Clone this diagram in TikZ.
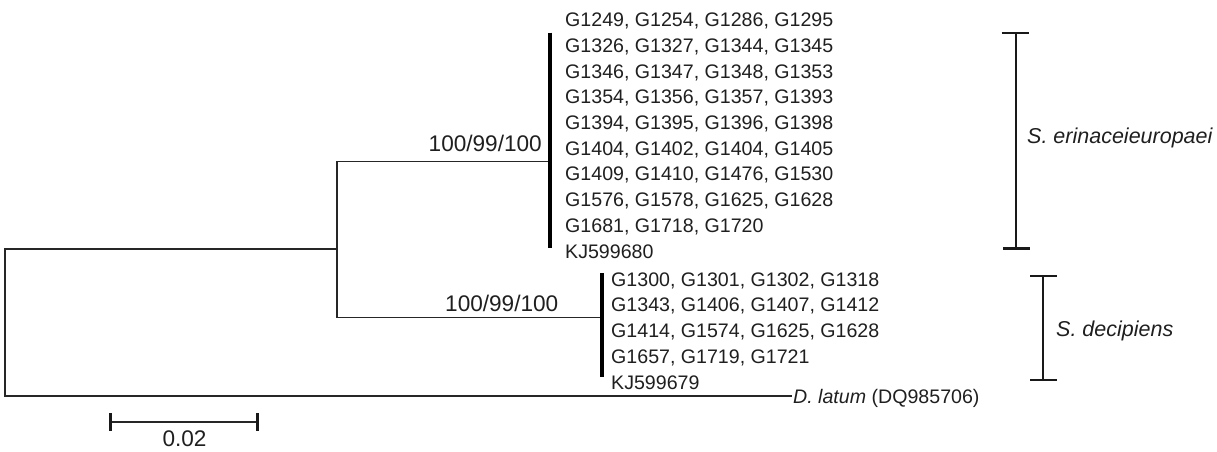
\documentclass[tikz,border=0pt]{standalone}
\usepackage{fontspec}
\setmainfont{Liberation Sans}
\usetikzlibrary{calc}
\begin{document}
\begin{tikzpicture}[x=1pt,y=-1pt,
  branch/.style={line width=1.9pt, draw=black!85, line join=miter},
  clade/.style={line width=3.1pt, draw=black},
  bracket/.style={line width=2.5pt, draw=black!90},
  scalebar/.style={line width=1.7pt, draw=black!85},
  tick/.style={line width=2.6pt, draw=black!90},
  taxon/.style={anchor=base west, inner sep=0pt, text=black!88, font=\fontsize{19.6}{19.6}\selectfont},
  boot/.style={anchor=base east, inner sep=0pt, text=black!88, font=\fontsize{22.6}{22.6}\selectfont},
  species/.style={anchor=base west, inner sep=0pt, text=black!88, font=\fontsize{21.5}{21.5}\selectfont\itshape}]
\useasboundingbox (0,0) rectangle (1217,452);

% tree coordinates
\coordinate (rt) at (5,249);
\coordinate (rb) at (5,396);
\coordinate (n1) at (337,249);
\coordinate (n1t) at (337,161.5);
\coordinate (n1b) at (337,317.5);
\coordinate (c1) at (550,161.5);
\coordinate (c1t) at (550,32.7);
\coordinate (c1b) at (550,248.3);
\coordinate (c2) at (602,317.5);
\coordinate (c2t) at (602,273.3);
\coordinate (c2b) at (602,377);
\coordinate (out) at (792,396);

% branches
\draw[branch] (out) -- (rb) -- (rt) -- (n1);
\draw[branch] (c1) -- (n1t) -- (n1b) -- (c2);
\draw[clade] (c1t) -- (c1b);
\draw[clade] (c2t) -- (c2b);

% upper clade taxa
\foreach \t [count=\i from 0] in {
  {G1249, G1254, G1286, G1295},
  {G1326, G1327, G1344, G1345},
  {G1346, G1347, G1348, G1353},
  {G1354, G1356, G1357, G1393},
  {G1394, G1395, G1396, G1398},
  {G1404, G1402, G1404, G1405},
  {G1409, G1410, G1476, G1530},
  {G1576, G1578, G1625, G1628},
  {G1681, G1718, G1720},
  {KJ599680}}
  \node[taxon] (u\i) at (565, 26.7+25.7*\i) {\t};

% lower clade taxa
\foreach \t [count=\i from 0] in {
  {G1300, G1301, G1302, G1318},
  {G1343, G1406, G1407, G1412},
  {G1414, G1574, G1625, G1628},
  {G1657, G1719, G1721},
  {KJ599679}}
  \node[taxon] (l\i) at (611, 286+25.8*\i) {\t};

% outgroup label
\node[taxon] (dl) at (793,403.3) {\textit{D. latum} (DQ985706)};

% bootstrap values
\node[boot] (b1) at (542,151.5) {100/99/100};
\node[boot] (b2) at (558.5,311.5) {100/99/100};

% scale bar
\coordinate (s1) at (110.5,422.3);
\coordinate (s2) at (257.7,422.3);
\draw[scalebar] (s1) -- (s2);
\draw[tick] ($(s1)+(0,-9)$) -- ($(s1)+(0,9)$);
\draw[tick] ($(s2)+(0,-9)$) -- ($(s2)+(0,9)$);
\node[anchor=base, inner sep=0pt, text=black!88, font=\fontsize{22.6}{22.6}\selectfont] (sl) at (184.5,446.5) {0.02};

% species brackets
\coordinate (br1t) at (1016,33);
\coordinate (br1b) at (1016,248.7);
\draw[bracket] (br1t) -- (br1b);
\draw[bracket] ($(br1t)+(-14.5,0)$) -- ($(br1t)+(13,0)$);
\draw[bracket] ($(br1b)+(-13,0)$) -- ($(br1b)+(14,0)$);
\node[species] (se) at (1027,143.4) {S. erinaceieuropaei};

\coordinate (br2t) at (1043,276);
\coordinate (br2b) at (1043,380);
\draw[bracket] (br2t) -- (br2b);
\draw[bracket] ($(br2t)+(-13,0)$) -- ($(br2t)+(13.5,0)$);
\draw[bracket] ($(br2b)+(-13,0)$) -- ($(br2b)+(13.5,0)$);
\node[species] (sd) at (1056,336.7) {S. decipiens};
\end{tikzpicture}
\end{document}
